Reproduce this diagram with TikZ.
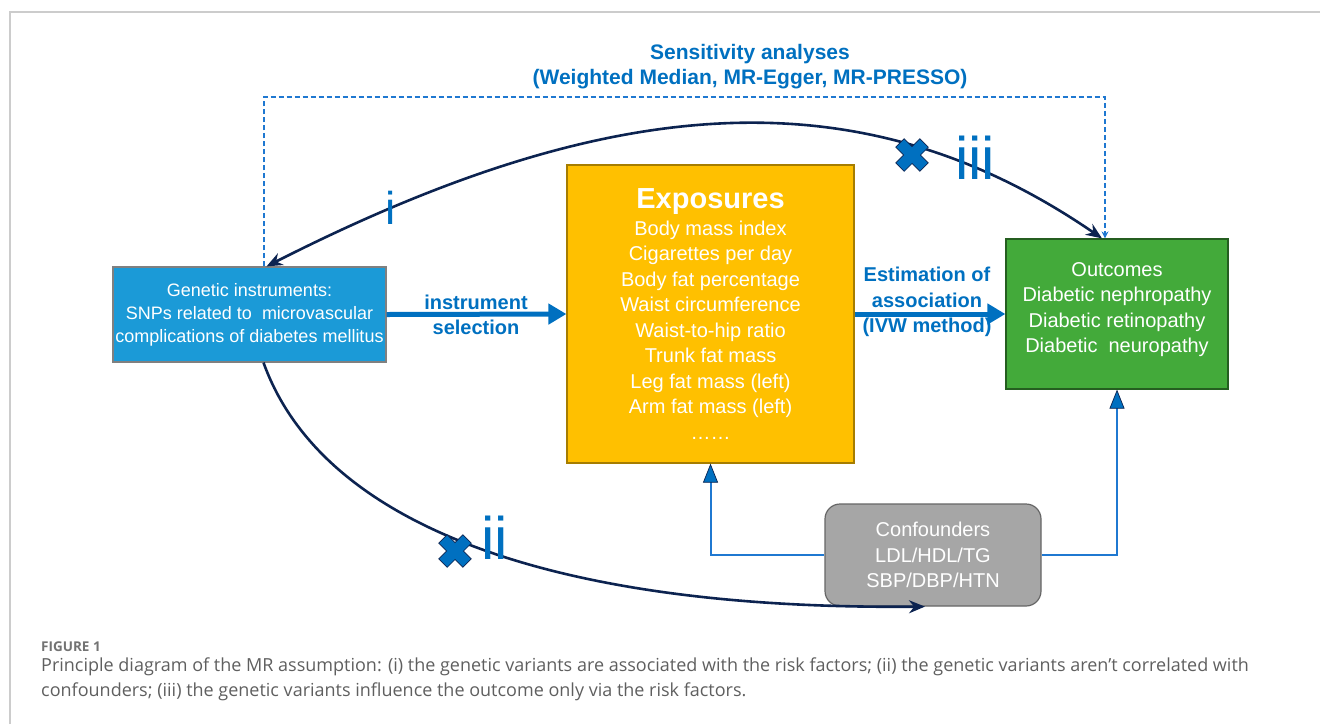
\documentclass[tikz,border=0pt]{standalone}
\usepackage{fontspec}
\setmainfont{Liberation Sans}
\newfontfamily\capfont{Open Sans}
\usetikzlibrary{arrows.meta,positioning}
\definecolor{mrblue}{RGB}{0,112,192}
\definecolor{lineblue}{RGB}{31,120,209}
\definecolor{navy}{RGB}{12,35,80}
\definecolor{genfill}{RGB}{27,154,215}
\definecolor{expfill}{RGB}{255,192,0}
\definecolor{outfill}{RGB}{67,170,58}
\definecolor{confill}{RGB}{166,166,166}
\definecolor{capgray}{RGB}{95,95,95}
\tikzset{
  xmark/.pic={
    \filldraw[fill=mrblue,draw=navy,line width=0.7pt,rotate=45]
      (-6,-17) -- (6,-17) -- (6,-6) -- (17,-6) -- (17,6) -- (6,6) -- (6,17)
      -- (-6,17) -- (-6,6) -- (-17,6) -- (-17,-6) -- (-6,-6) -- cycle;
  }
}
\begin{document}
\begin{tikzpicture}[x=1pt,y=-1pt,
    box/.style={draw,line width=1.2pt,text=white,align=center,inner sep=0pt},
    boxtext/.style={font=\fontsize{20}{25.5}\selectfont},
    blabel/.style={text=mrblue,font=\bfseries\fontsize{20}{25.5}\selectfont,align=center},
    roman/.style={text=mrblue,inner sep=0pt},
    bigarrow/.style={mrblue,line width=5pt,-{Triangle[length=18pt,width=20pt]}},
    curvearrow/.style={navy,line width=2.6pt},
    feedarrow/.style={lineblue,line width=2pt,
      -{Triangle[length=19pt,width=15pt,fill=mrblue,color=navy,line width=0.7pt]}}
  ]
  \useasboundingbox (0,0) rectangle (1320,724);
  \draw[black!20,line width=1.5pt] (10,724) -- (10,12) -- (1320,12);
  %
  \node[box,fill=genfill,draw=black!50,minimum width=273,minimum height=95,
    font=\fontsize{18}{23}\selectfont] (gen) at (249.5,314.5)
    {Genetic instruments:\\SNPs related to\ \ microvascular\\complications of diabetes mellitus};
  \node[box,boxtext,fill=expfill,draw=expfill!65!black,minimum width=287,minimum height=298]
    (exp) at (710.5,314)
    {{\bfseries\fontsize{29}{34}\selectfont Exposures}\\[1pt]Body mass index\\Cigarettes per day\\
     Body fat percentage\\Waist circumference\\Waist-to-hip ratio\\Trunk fat mass\\
     Leg fat mass (left)\\Arm fat mass (left)\\……};
  \node[box,boxtext,fill=outfill,draw=outfill!55!black,minimum width=222,minimum height=150]
    (out) at (1117,314)
    {Outcomes\\Diabetic nephropathy\\Diabetic retinopathy\\Diabetic\ \ neuropathy\\[-13pt]\mbox{}};
  \node[box,boxtext,fill=confill,draw=black!60,rounded corners=15pt,minimum width=216,
    minimum height=102] (conf) at (933,555) {Confounders\\LDL/HDL/TG\\SBP/DBP/HTN};
  %
  \draw[bigarrow] (gen.east) -- (exp.west);
  \draw[bigarrow] (exp.east) -- (out.west);
  \draw[feedarrow] (conf.west) -| (exp.south);
  \draw[feedarrow] (conf.east) -| (out.south);
  %
  \draw[lineblue,line width=2pt,dash pattern=on 5pt off 3pt,-{Stealth[length=7pt,width=7pt]}]
    ([xshift=14]gen.north) -- ++(0,-169) -| ([xshift=-12]out.north);
  \draw[curvearrow,{Stealth[length=16pt,width=13pt]}-{Stealth[length=16pt,width=13pt]}]
    ([xshift=17]gen.north) .. controls (610,92) and (860,72) .. ([xshift=-15]out.north)
    node[roman,pos=0.125,font=\fontsize{46}{46}\selectfont] (ri) {i};
  \draw[curvearrow,-{Stealth[length=16pt,width=13pt]}]
    ([xshift=14]gen.south) .. controls (320,520) and (540,610) .. ([xshift=-8]conf.south);
  %
  \pic at (912,155) {xmark};
  \pic at (455,551) {xmark};
  \node[roman,font=\fontsize{60}{60}\selectfont] (rii) at (495,538) {ii};
  \node[roman,font=\fontsize{60}{60}\selectfont] (riii) at (975,158) {iii};
  %
  \node[blabel,font=\bfseries\fontsize{21}{25}\selectfont] (sens) at (750,67)
    {Sensitivity analyses\\(Weighted Median, MR-Egger, MR-PRESSO)};
  \node[blabel] (sel) at (476,315) {instrument\\selection};
  \node[blabel] (est) at (927,302) {Estimation of\\association\\(IVW method)};
  %
  \node[anchor=north west,inner sep=0pt,text=black!55,
    font=\capfont\bfseries\fontsize{13.5}{15}\selectfont] (fig) at (41,642) {FIGURE 1};
  \node[anchor=north west,inner sep=0pt,align=left,text=capgray,
    font=\capfont\fontsize{18}{25}\selectfont] (cap) at (41,658)
    {Principle diagram of the MR assumption: (i) the genetic variants are associated with the risk factors; (ii) the genetic variants aren’t correlated with\\
     confounders; (iii) the genetic variants influence the outcome only via the risk factors.};
\end{tikzpicture}
\end{document}
